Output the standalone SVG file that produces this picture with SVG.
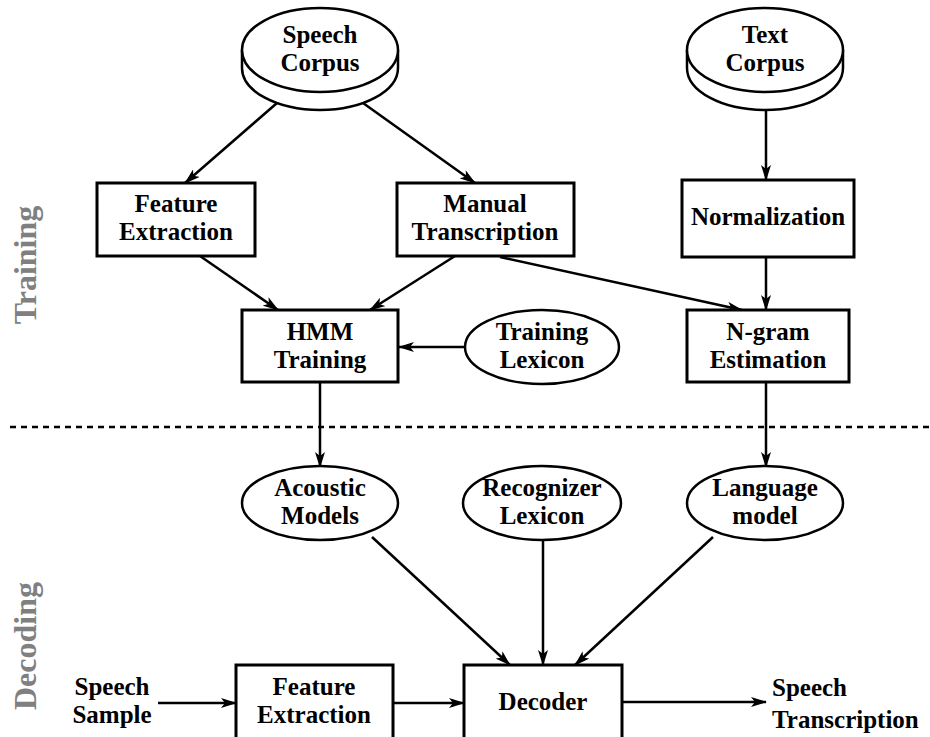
<svg xmlns="http://www.w3.org/2000/svg" width="930" height="737" viewBox="0 0 930 737">
<style>
.box{fill:#fff;stroke:#000;stroke-width:3}
.ell{fill:#fff;stroke:#000;stroke-width:2.5}
.t{font-family:"Liberation Serif","Times New Roman",serif;font-weight:bold;font-size:25px;text-anchor:middle;fill:#000}
.side{font-family:"Liberation Serif","Times New Roman",serif;font-weight:bold;font-size:32px;text-anchor:middle;fill:#808080}
.c{stroke:#000;stroke-width:2.5;fill:none;marker-end:url(#ah)}
</style>
<defs>
<marker id="ah" markerWidth="16" markerHeight="10" refX="15" refY="5" orient="auto" markerUnits="userSpaceOnUse">
<path d="M0,0 L16,5 L0,10 L4,5 Z" fill="#000"/>
</marker>
</defs>
<rect width="930" height="737" fill="#fff"/>
<text class="side" transform="translate(36,265) rotate(-90)">Training</text>
<text class="side" transform="translate(36,646) rotate(-90)">Decoding</text>
<line x1="10" y1="427" x2="930" y2="427" stroke="#000" stroke-width="2.5" stroke-dasharray="6,5"/>
<g id="connectors">
<line class="c" x1="277" y1="103" x2="185" y2="183"/>
<line class="c" x1="363" y1="103" x2="475" y2="183"/>
<line class="c" x1="766" y1="110" x2="766" y2="180"/>
<line class="c" x1="200" y1="256" x2="278" y2="310"/>
<line class="c" x1="455" y1="256" x2="370" y2="310"/>
<line class="c" x1="500" y1="257" x2="742" y2="310"/>
<line class="c" x1="766" y1="257" x2="766" y2="310"/>
<line class="c" x1="465" y1="347" x2="399" y2="347"/>
<line class="c" x1="320" y1="382" x2="320" y2="467"/>
<line class="c" x1="766" y1="382" x2="766" y2="467"/>
<line class="c" x1="372" y1="537" x2="510" y2="665"/>
<line class="c" x1="543" y1="540" x2="543" y2="665"/>
<line class="c" x1="713" y1="537" x2="575" y2="665"/>
<line class="c" x1="158" y1="703" x2="236" y2="703"/>
<line class="c" x1="393" y1="703" x2="464" y2="703"/>
<line class="c" x1="622" y1="702" x2="766" y2="702"/>
</g>
<g id="speech-corpus">
<path class="ell" d="M242,50 L242,68 A78,42 0 0 0 398,68 L398,50"/>
<ellipse class="ell" cx="320" cy="50" rx="78" ry="42"/>
<text class="t" x="320" y="43">Speech</text>
<text class="t" x="320" y="71">Corpus</text>
</g>
<g id="text-corpus">
<path class="ell" d="M687,50 L687,68 A78,42 0 0 0 843,68 L843,50"/>
<ellipse class="ell" cx="765" cy="50" rx="78" ry="42"/>
<text class="t" x="765" y="43">Text</text>
<text class="t" x="765" y="71">Corpus</text>
</g>
<g id="feature-extraction-1">
<rect class="box" x="97" y="183" width="158" height="73"/>
<text class="t" x="176" y="212">Feature</text>
<text class="t" x="176" y="240">Extraction</text>
</g>
<g id="manual-transcription">
<rect class="box" x="397" y="183" width="177" height="73"/>
<text class="t" x="485" y="212">Manual</text>
<text class="t" x="485" y="240">Transcription</text>
</g>
<g id="normalization">
<rect class="box" x="682" y="180" width="172" height="77"/>
<text class="t" x="768" y="225">Normalization</text>
</g>
<g id="hmm-training">
<rect class="box" x="242" y="310" width="156" height="72"/>
<text class="t" x="320" y="340">HMM</text>
<text class="t" x="320" y="368">Training</text>
</g>
<g id="training-lexicon">
<ellipse class="ell" cx="542" cy="347" rx="77" ry="37"/>
<text class="t" x="542" y="340">Training</text>
<text class="t" x="542" y="368">Lexicon</text>
</g>
<g id="ngram-estimation">
<rect class="box" x="687" y="310" width="162" height="72"/>
<text class="t" x="768" y="340">N-gram</text>
<text class="t" x="768" y="368">Estimation</text>
</g>
<g id="acoustic-models">
<ellipse class="ell" cx="320" cy="503" rx="78" ry="37"/>
<text class="t" x="320" y="496">Acoustic</text>
<text class="t" x="320" y="524">Models</text>
</g>
<g id="recognizer-lexicon">
<ellipse class="ell" cx="542" cy="503" rx="79" ry="37"/>
<text class="t" x="542" y="496">Recognizer</text>
<text class="t" x="542" y="524">Lexicon</text>
</g>
<g id="language-model">
<ellipse class="ell" cx="765" cy="503" rx="78" ry="37"/>
<text class="t" x="765" y="496">Language</text>
<text class="t" x="765" y="524">model</text>
</g>
<g id="speech-sample">
<text class="t" x="112" y="695">Speech</text>
<text class="t" x="112" y="723">Sample</text>
</g>
<g id="feature-extraction-2">
<rect class="box" x="236" y="665" width="157" height="80"/>
<text class="t" x="314" y="695">Feature</text>
<text class="t" x="314" y="723">Extraction</text>
</g>
<g id="decoder">
<rect class="box" x="464" y="665" width="158" height="80"/>
<text class="t" x="543" y="710">Decoder</text>
</g>
<g id="speech-transcription">
<text class="t" x="772" y="696" style="text-anchor:start">Speech</text>
<text class="t" x="772" y="728" style="text-anchor:start">Transcription</text>
</g>
</svg>
